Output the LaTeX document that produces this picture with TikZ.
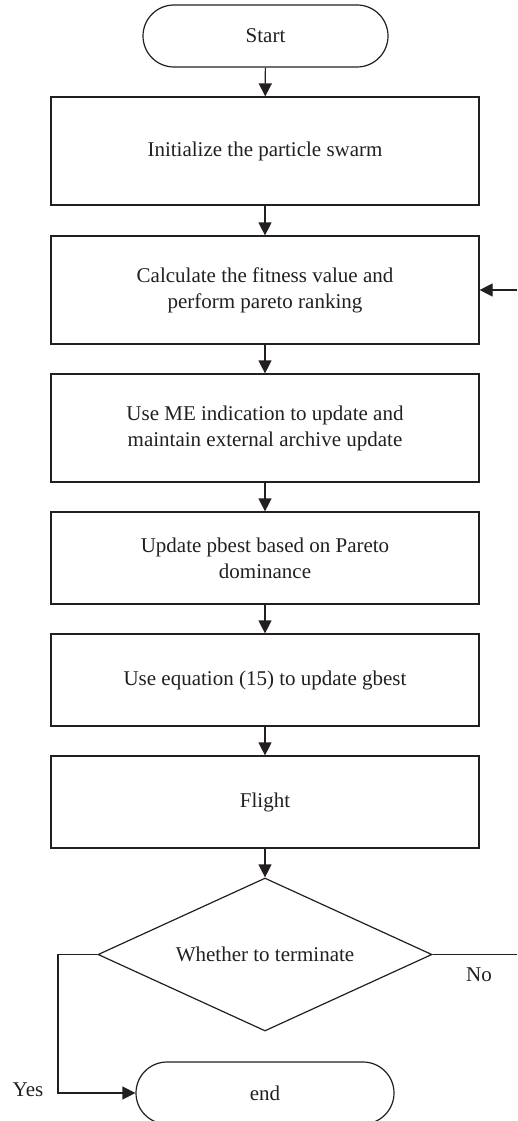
\documentclass[tikz,border=0pt]{standalone}
\usepackage{fontspec}
\setmainfont{Liberation Serif}
\usetikzlibrary{arrows.meta,shapes.geometric}
\definecolor{ink}{HTML}{231F20}
\begin{document}
\begin{tikzpicture}[x=1pt,y=-1pt,
  every node/.style={font=\fontsize{21}{26}\selectfont, text=ink},
  proc/.style={draw=ink, line width=1.2pt, rectangle, minimum width=428pt, align=center, inner sep=0pt},
  term/.style={draw=ink, line width=1.2pt, rectangle, rounded corners=31pt, minimum height=62pt, inner sep=0pt},
  decide/.style={draw=ink, line width=1.2pt, diamond, aspect=2.4, minimum width=334pt, minimum height=153pt, inner sep=0pt},
  arr/.style={draw=ink, line width=1.2pt, -{Triangle[length=13pt,width=13pt]}},
  ln/.style={draw=ink, line width=1.2pt}
]
\useasboundingbox (0,0) rectangle (517,1121);
\node[term, minimum width=245pt] (start) at (265.5,36) {Start};
\node[proc, minimum height=108pt] (b1) at (265,151) {Initialize the particle swarm};
\node[proc, minimum height=108pt] (b2) at (265,290) {Calculate the fitness value and\\perform pareto ranking};
\node[proc, minimum height=108pt] (b3) at (265,428) {Use ME indication to update and\\maintain external archive update};
\node[proc, minimum height=92pt] (b4) at (265,558) {Update pbest based on Pareto\\dominance};
\node[proc, minimum height=92pt] (b5) at (265,680) {Use equation (15) to update gbest};
\node[proc, minimum height=92pt] (b6) at (265,802) {Flight};
\node[decide] (dec) at (265,954.5) {Whether to terminate};
\node[term, minimum width=258pt] (end) at (265,1093) {end};
\node (yes) at (28,1090) {Yes};
\node (no) at (479,975) {No};
\coordinate (rin) at (517,290);
\coordinate (rout) at (517,954.5);
\coordinate (yc) at (58,954.5);
\draw[arr] (start) -- (b1);
\draw[arr] (b1) -- (b2);
\draw[arr] (b2) -- (b3);
\draw[arr] (b3) -- (b4);
\draw[arr] (b4) -- (b5);
\draw[arr] (b5) -- (b6);
\draw[arr] (b6) -- (dec);
\draw[arr] (rin) -- (b2.east);
\draw[ln] (dec.east) -- (rout);
\draw[arr] (dec.west) -- (yc) |- (end.west);
\end{tikzpicture}
\end{document}
